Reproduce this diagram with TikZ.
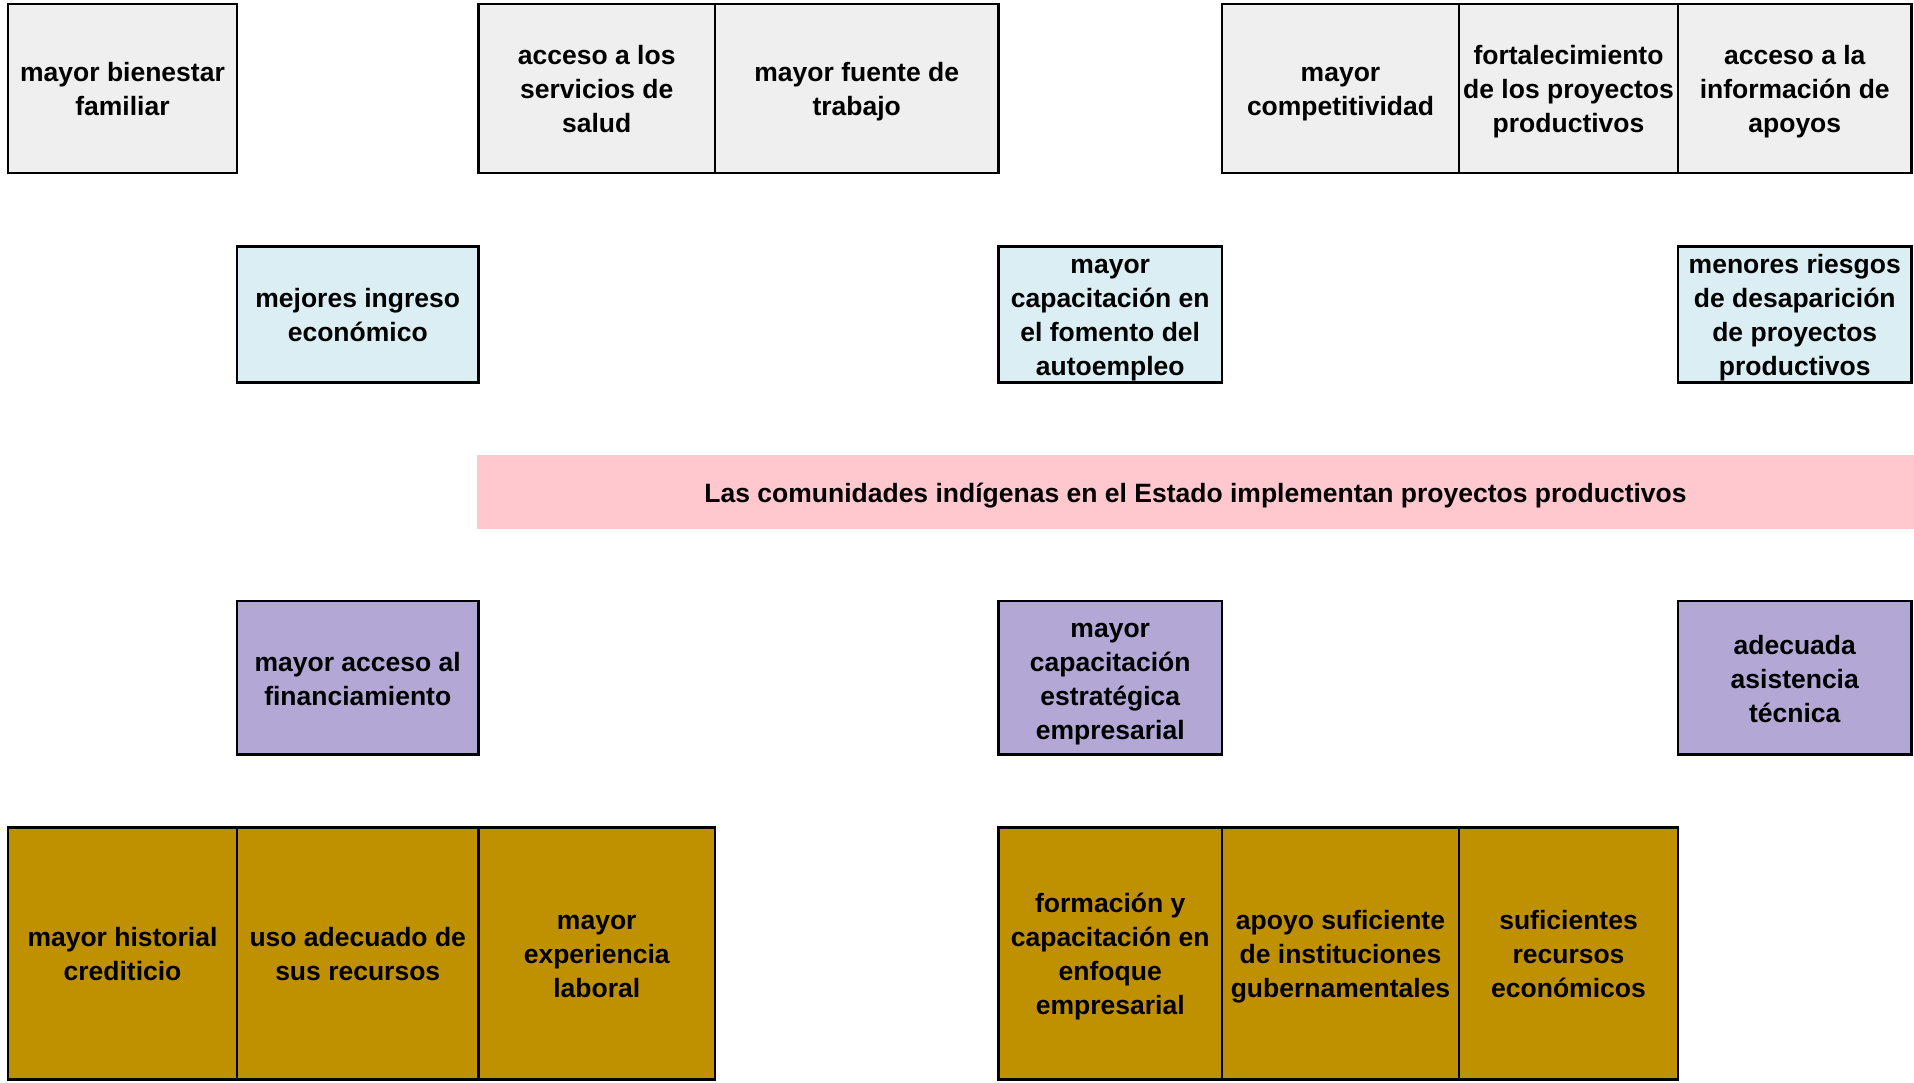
\documentclass[tikz,border=0pt]{standalone}
\usepackage{fontspec}
\setmainfont{Liberation Sans}
\definecolor{topgray}{HTML}{EFEFEF}
\definecolor{lblue}{HTML}{DAEEF3}
\definecolor{pinkc}{HTML}{FFC7CE}
\definecolor{purp}{HTML}{B3A7D6}
\definecolor{goldc}{HTML}{BF9000}
\newcommand{\ts}{\rule{0pt}{27.4pt}}
\newcommand{\botstrut}{\rule[-6.6pt]{0pt}{6.6pt}}
\begin{document}
\begin{tikzpicture}[x=1pt,y=-1pt,
  txt/.style={inner sep=0pt, align=center,
    font=\bfseries\fontsize{26.5}{34}\selectfont,
    execute at end node=\botstrut},
  box/.style={txt, draw=black, line width=2.8pt},
  toprow/.style={box, fill=topgray, minimum height=169pt},
  midrow/.style={box, fill=lblue, minimum height=136pt},
  lowrow/.style={box, fill=purp, minimum height=153.5pt},
  baserow/.style={box, fill=goldc, minimum height=252pt},
  problem/.style={txt, fill=pinkc}]
\useasboundingbox (0,0) rectangle (1914,1082);
% top row (effects)
\node[toprow, minimum width=229pt] (t1) at (122.5,88.5) {\ts mayor bienestar\\familiar};
\node[toprow, minimum width=236.5pt] (t2) at (596.75,88.5) {\ts acceso a los\\servicios de\\salud};
\node[toprow, minimum width=283.5pt] (t3) at (856.75,88.5) {\ts mayor fuente de\\trabajo};
\node[toprow, minimum width=237pt] (t4) at (1340.5,88.5) {\ts mayor\\competitividad};
\node[toprow, minimum width=219pt] (t5) at (1568.5,88.5) {\ts fortalecimiento\\de los proyectos\\productivos};
\node[toprow, minimum width=233.5pt] (t6) at (1794.75,88.5) {\ts acceso a la\\información de\\apoyos};
% second row
\node[midrow, minimum width=241.5pt] (m1) at (357.75,314.5) {\ts mejores ingreso\\económico};
\node[midrow, minimum width=223.5pt] (m2) at (1110.25,314.5) {\ts mayor\\capacitación en\\el fomento del\\autoempleo};
\node[midrow, minimum width=233.5pt] (m3) at (1794.75,314.5) {\ts menores riesgos\\de desaparición\\de proyectos\\productivos};
% central problem
\node[problem, minimum width=1437pt, minimum height=73.5pt] (p) at (1195.5,491.75) {\ts Las comunidades indígenas en el Estado implementan proyectos productivos};
% fourth row
\node[lowrow, minimum width=241.5pt] (l1) at (357.75,677.75) {\ts mayor acceso al\\financiamiento};
\node[lowrow, minimum width=223.5pt] (l2) at (1110.25,677.75) {\ts mayor\\capacitación\\estratégica\\empresarial};
\node[lowrow, minimum width=233.5pt] (l3) at (1794.75,677.75) {\ts adecuada\\asistencia\\técnica};
% bottom row
\node[baserow, minimum width=229pt] (b1) at (122.5,953.5) {\ts mayor historial\\crediticio};
\node[baserow, minimum width=241.5pt] (b2) at (357.75,953.5) {\ts uso adecuado de\\sus recursos};
\node[baserow, minimum width=236.5pt] (b3) at (596.75,953.5) {\ts mayor\\experiencia\\laboral};
\node[baserow, minimum width=223.5pt] (b4) at (1110.25,953.5) {\ts formación y\\capacitación en\\enfoque\\empresarial};
\node[baserow, minimum width=237pt] (b5) at (1340.5,953.5) {\ts apoyo suficiente\\de instituciones\\gubernamentales};
\node[baserow, minimum width=219pt] (b6) at (1568.5,953.5) {\ts suficientes\\recursos\\económicos};
\end{tikzpicture}
\end{document}
